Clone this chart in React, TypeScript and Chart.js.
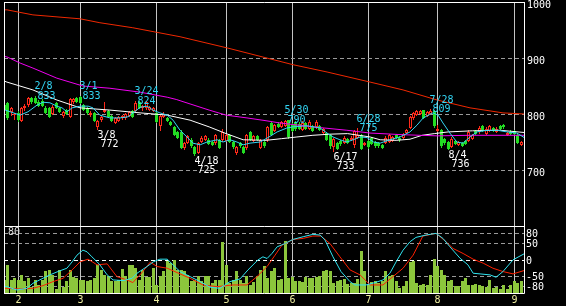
import React, { useEffect, useRef } from "react";
import { Chart, registerables } from "chart.js";

Chart.register(...registerables);

// ---- trading calendar (2022) ----
const tradingDays: [number, number[]][] = [
  [1, [26, 27, 28, 31]],
  [2, [1, 2, 3, 4, 7, 8, 9, 10, 14, 15, 16, 17, 18, 21, 22, 24, 25, 28]],
  [3, [1, 2, 3, 4, 7, 8, 9, 10, 11, 14, 15, 16, 17, 18, 22, 23, 24, 25, 28, 29, 30, 31]],
  [4, [1, 4, 5, 6, 7, 8, 11, 12, 13, 14, 15, 18, 19, 20, 21, 22, 25, 26, 27, 28]],
  [5, [2, 6, 9, 10, 11, 12, 13, 16, 17, 18, 19, 20, 23, 24, 25, 26, 27, 30, 31]],
  [6, [1, 2, 3, 6, 7, 8, 9, 10, 13, 14, 15, 16, 17, 20, 21, 22, 23, 24, 27, 28, 29, 30]],
  [7, [1, 4, 5, 6, 7, 8, 11, 12, 13, 14, 15, 19, 20, 21, 22, 25, 26, 27, 28, 29]],
  [8, [1, 2, 3, 4, 5, 8, 9, 10, 12, 15, 16, 17, 18, 19, 22, 23, 24, 25, 26, 29, 30, 31]],
  [9, [1, 2, 5]],
];
const monthLabels = ["2", "3", "4", "5", "6", "7", "8", "9"];

// ---- daily prices ----
const opens = [816,820,803,799,802,787,810,816,829,829,822,823,811,810,800,820,811,796,807,795,821,828,830,816,811,798,802,776,789,804,806,797,784,788,792,792,796,806,805,821,810,810,808,806,802,778,795,792,786,777,768,768,739,748,754,741,730,750,754,754,750,748,754,753,752,762,750,730,748,741,739,768,752,760,740,750,754,784,770,783,777,779,789,780,785,783,771,784,773,779,776,779,766,766,763,741,748,752,748,756,754,745,758,762,745,752,757,750,748,745,748,750,752,762,758,758,766,775,793,798,800,807,797,800,805,770,771,755,750,741,752,744,748,752,752,755,770,768,778,765,770,775,768,778,780,762,768,770,763,745];
const highs = [819,822,812,801,806,813,817,830,831,833,825,826,814,812,816,822,813,806,809,828,829,831,833,818,813,805,804,790,797,821,808,799,795,796,798,802,806,808,824,823,816,823,814,812,806,800,804,794,788,779,770,771,750,763,757,743,750,760,763,757,752,764,756,773,764,764,752,743,750,743,764,770,762,762,756,752,778,786,782,785,788,790,789,784,787,785,788,786,789,781,789,781,775,768,765,758,750,754,760,758,760,772,775,764,750,753,759,752,750,747,760,764,761,764,760,766,774,796,803,807,807,808,805,809,807,780,773,758,752,759,754,752,750,754,772,764,772,778,780,776,781,777,777,780,783,768,771,772,765,752];
const lows = [805,789,797,790,786,785,806,812,818,818,812,813,800,792,798,809,802,792,798,793,818,820,817,806,799,795,785,772,786,802,793,786,782,786,790,790,794,792,803,809,806,808,805,804,784,770,792,786,778,760,755,737,736,746,740,725,728,748,752,744,742,745,738,750,750,748,738,727,740,728,736,752,750,752,738,740,750,760,768,775,775,776,756,768,770,771,769,771,771,768,774,769,764,752,738,733,735,743,746,746,752,740,755,735,742,738,744,740,740,738,746,748,750,755,750,756,764,773,790,796,798,791,795,798,775,768,740,745,736,739,744,742,741,745,750,753,763,765,768,763,768,768,766,771,774,760,762,762,746,743];
const closes = [807,792,810,800,789,811,815,828,821,820,814,815,802,794,813,811,804,803,800,826,827,822,819,808,801,802,787,788,795,807,795,788,793,794,796,800,803,794,820,811,814,821,812,810,786,797,800,788,780,762,757,740,748,760,742,728,748,758,761,746,745,762,740,768,762,750,741,741,742,730,762,754,760,754,754,742,777,762,780,777,786,788,759,770,773,774,784,773,786,770,786,771,773,754,742,756,737,746,757,749,758,770,762,737,749,741,746,743,742,740,757,762,759,757,753,764,772,794,801,806,805,793,803,806,778,774,742,748,738,756,746,750,743,747,768,762,765,775,770,773,779,770,774,773,776,766,765,764,748,750];
const volumes = [130,280,130,150,130,180,120,150,60,130,80,130,220,230,180,40,230,60,120,230,160,150,130,130,120,130,150,280,230,180,170,120,120,130,240,170,280,280,250,130,230,160,160,250,80,170,220,320,300,330,230,230,220,180,120,130,170,120,170,170,100,130,130,510,280,100,130,220,130,100,170,80,110,170,230,270,150,220,250,130,140,520,150,160,120,120,110,160,150,150,160,170,220,230,220,100,120,130,140,90,100,100,140,420,220,80,110,120,100,120,220,170,180,120,50,70,120,310,320,100,80,90,80,180,340,270,230,180,120,130,70,70,120,150,80,80,90,80,70,60,130,50,60,40,80,40,80,120,100,120];

// ---- moving averages, read as [day index, price] ----
const maLong: [number, number][] = [[0,986],[0.8,986],[8.3,977],[21.9,970],[27.6,963],[37.1,954],[50.7,938],[64.3,918],[83.3,888],[93.1,875],[105.5,857],[115,843],[124.8,825],[134.3,811],[143.8,802],[149.9,800]];
const maMid: [number, number][] = [[0,903],[0.8,902],[4.6,891],[8.3,882],[15.2,864],[22.7,850],[30.5,846],[39.2,839],[47,830],[49.6,826],[53.6,818],[59.1,807],[64,798],[70,793],[75.5,788],[79.5,784],[89,777],[98.8,771],[105.5,766],[115,763],[124.8,761],[134.3,762],[149.9,762]];
const maShort: [number, number][] = [[0,859],[0.8,857],[8.3,843],[15.2,825],[21.9,811],[30.5,807],[39.2,802],[47,798],[53.6,789],[59.1,777],[64,765],[68.9,754],[75.5,753],[80,756],[84.4,759],[89,762],[94,764],[99,765],[105.5,759],[108.4,754],[113,753],[117,755],[120.5,762],[124,765],[128,768],[135,770],[143,771],[149.9,767]];
const ma5: [number, number][] = [[0,806],[0.3,807],[4.6,798],[6.9,804],[9.5,816],[11.2,821],[13.2,820],[15.2,814],[16.7,811],[18.1,804],[19.6,811],[21.9,814],[24.2,814],[25.6,811],[27.6,798],[30.5,793],[33.4,793],[35.7,795],[37.2,802],[39.2,812],[41.2,814],[42.9,807],[44.9,802],[47,798],[48.7,789],[50.7,771],[52.7,759],[54.4,748],[56.5,745],[58.5,750],[61.4,754],[63.1,750],[65.1,754],[67.1,750],[68.9,745],[70.9,748],[73.8,750],[75.8,757],[78.7,768],[81.5,775],[83.3,777],[87.3,779],[91.1,775],[93.1,766],[94.8,759],[96.8,754],[98.8,750],[100.6,754],[102.6,759],[104.6,758],[106.5,750],[108.4,748],[111.2,754],[114.1,759],[117,768],[119,780],[120.8,793],[123.6,802],[125.1,798],[126.5,784],[128.5,766],[130.5,750],[132.3,748],[134.3,759],[136.3,768],[139.2,771],[142.1,771],[145,768],[147.8,766],[149.9,758]];

// ---- oscillator (lower panel) ----
const oscFast: [number, number][] = [[0,-80],[0.8,-81],[3.7,-91],[6.6,-86],[8.3,-71],[11.2,-56],[13.2,-46],[15.5,-36],[18.1,-26],[19.6,-7],[21,13],[22.7,28],[23.9,23],[25.3,8],[26.8,-7],[27.6,-16],[29.7,-46],[31.4,-61],[34.3,-63],[36.9,-56],[38.3,-41],[41.2,-21],[43,-7],[44.9,1],[47,1],[48.7,-16],[50.7,-36],[53.6,-51],[56.5,-66],[59.4,-83],[62.2,-86],[65.1,-66],[68,-58],[70.3,-31],[73.2,-1],[74.6,8],[75.8,3],[77.2,18],[78.7,38],[80.4,45],[83.3,60],[86.2,68],[89,75],[91.1,73],[92.5,58],[94.8,8],[97.1,-36],[99.7,-66],[101.1,-76],[104.3,-76],[106.9,-69],[109.2,-61],[111.2,-41],[113,-7],[115,28],[117,53],[118.7,66],[121.6,73],[124.5,78],[126.5,63],[128.5,38],[131.4,4],[133.7,-16],[135.2,-41],[137.2,-43],[140.1,-46],[141.8,-53],[143.8,-36],[146.7,-1],[149.9,17]];
const oscSlow: [number, number][] = [[0,-86],[0.8,-86],[4.6,-88],[8.3,-86],[11.2,-78],[14.1,-66],[17,-56],[19.6,-31],[21.9,-7],[24.2,1],[26.8,-16],[29.7,-13],[32.5,-51],[35.4,-61],[37.1,-69],[40,-36],[42.1,-8],[44.1,-21],[47,-26],[50.7,-43],[53.6,-56],[57.3,-76],[61.4,-81],[66,-76],[70,-76],[72.9,-51],[75.8,-21],[78.1,13],[80.1,43],[83.3,60],[86.2,63],[89,70],[91.3,70],[93.9,48],[96.8,8],[99.7,-31],[102.6,-46],[105.5,-76],[109.2,-76],[112.1,-51],[115,-26],[117.9,13],[120.7,70],[124.5,78],[127.4,53],[129.4,33],[132.3,18],[135.2,1],[138.1,-11],[140.9,-26],[143.8,-36],[146.7,-43],[149.9,-33]];

// ---- labelled extremes ----
const highLabelDates = ["2/8", "3/1", "3/24", "5/30", "6/28", "7/28"];
const highLabelValues = [833, 833, 824, 790, 775, 809];
const lowLabelDates = ["3/8", "4/18", "6/17", "8/4"];
const lowLabelValues = [772, 725, 733, 736];

// ---- axis tick labels ----
const priceTicks = [1000, 900, 800, 700];
const priceGrid = [900, 800, 700];
const oscTicks = [80, 50, 0, -50, -80];

const dates: string[] = [];
const monthStarts: number[] = [];
tradingDays.forEach(([m, days]) => {
  if (m > 1) monthStarts.push(dates.length);
  days.forEach((d) => dates.push(`${m}/${d}`));
});

const RED = "#ff2a1a";
const GREEN = "#22dd22";
const CYAN = "#33d6f5";
const MAGENTA = "#f000f0";
const MA_RED = "#f02800";
const VOL = "#8cc63c";
const FONT = "10px 'DejaVu Sans Mono', monospace";

const pairs = (a: [number, number][]) => a.map(([x, y]) => ({ x, y }));

export default function App() {
  const ref = useRef<HTMLCanvasElement>(null);

  useEffect(() => {
    document.body.style.margin = "0";
    document.body.style.background = "#000";
    const canvas = ref.current!;
    const idx = dates.map((_, i) => i);
    const up = idx.map((i) => closes[i] >= opens[i]);

    const panelPlugin = {
      id: "panels",
      afterDatasetsUpdate(chart: any) {
        chart.data.datasets.forEach((ds: any, di: number) => {
          if (ds.type !== "bar") return;
          const meta = chart.getDatasetMeta(di);
          meta.data.forEach((el: any) => {
            el.x = Math.floor(el.x) + 0.5;
            const top = Math.round(Math.min(el.y, el.base));
            let bot = Math.round(Math.max(el.y, el.base));
            if (bot - top < 1) bot = top + 1;
            el.y = top;
            el.base = bot;
          });
        });
      },
      beforeDatasetsDraw(chart: any) {
        const { ctx, chartArea: a, scales } = chart;
        const { x, yP, yO } = scales;
        ctx.save();
        ctx.fillStyle = "#000";
        ctx.fillRect(0, 0, chart.width, chart.height);
        ctx.lineWidth = 1;
        // month lines
        ctx.strokeStyle = "#c4c4c4";
        monthStarts.forEach((i) => {
          const px = Math.floor(x.getPixelForValue(i)) + 0.5;
          ctx.beginPath();
          ctx.moveTo(px, a.top);
          ctx.lineTo(px, a.bottom);
          ctx.stroke();
        });
        // dashed horizontals
        ctx.setLineDash([4, 3]);
        const hline = (py: number, color: string) => {
          const yy = Math.round(py) + 0.5;
          ctx.strokeStyle = color;
          ctx.beginPath();
          ctx.moveTo(a.left, yy);
          ctx.lineTo(a.right, yy);
          ctx.stroke();
        };
        priceGrid.forEach((v) => hline(yP.getPixelForValue(v), "#9a9a9a"));
        oscTicks.forEach((v) => hline(yO.getPixelForValue(v), v === 0 ? "#ffffff" : "#9a9a9a"));
        ctx.restore();
      },
      afterDatasetsDraw(chart: any) {
        const { ctx, chartArea: a, scales } = chart;
        const { x, yP, yO } = scales;
        ctx.save();
        ctx.strokeStyle = "#ffffff";
        ctx.lineWidth = 1;
        const divider = Math.round(yP.getPixelForValue(600)) + 0.5;
        ctx.beginPath();
        ctx.moveTo(a.left, a.top + 0.5);
        ctx.lineTo(a.right + 0.5, a.top + 0.5);
        ctx.moveTo(a.left + 0.5, a.top);
        ctx.lineTo(a.left + 0.5, a.bottom + 0.5);
        ctx.moveTo(a.right + 0.5, a.top);
        ctx.lineTo(a.right + 0.5, a.bottom + 0.5);
        ctx.moveTo(a.left, a.bottom + 0.5);
        ctx.lineTo(a.right + 0.5, a.bottom + 0.5);
        ctx.moveTo(a.left, divider);
        ctx.lineTo(a.right + 0.5, divider);
        ctx.stroke();

        ctx.font = FONT;
        ctx.textBaseline = "alphabetic";
        ctx.textAlign = "left";
        // right price labels
        ctx.fillStyle = "#ffffff";
        priceTicks.forEach((v) => {
          ctx.fillText(String(v), a.right + 3, yP.getPixelForValue(v) + 6.2);
        });
        oscTicks.forEach((v) => {
          ctx.fillText(String(v), a.right + 2, yO.getPixelForValue(v) + 4);
        });
        ctx.fillStyle = "#e0e0e0";
        ctx.fillText("80", a.left + 4, yO.getPixelForValue(80) + 2.5);
        // month labels
        ctx.fillStyle = "#eeeea0";
        ctx.textAlign = "center";
        monthStarts.forEach((i, k) => {
          const px = Math.floor(x.getPixelForValue(i)) + 0.5;
          ctx.fillText(monthLabels[k], px, a.bottom + 9.5);
        });
        // extreme annotations
        ctx.textAlign = "left";
        ctx.fillStyle = CYAN;
        highLabelDates.forEach((d, k) => {
          const i = dates.indexOf(d);
          const px = Math.floor(x.getPixelForValue(i)) + 0.5;
          const py = yP.getPixelForValue(highLabelValues[k]);
          ctx.fillText(d, px - 1, py - 6.2);
          ctx.fillText(String(highLabelValues[k]), px + 2, py + 3.2);
        });
        ctx.fillStyle = "#ffffff";
        lowLabelDates.forEach((d, k) => {
          const i = dates.indexOf(d);
          const px = Math.floor(x.getPixelForValue(i)) + 0.5;
          const py = yP.getPixelForValue(lowLabelValues[k]);
          ctx.fillText(d, px, py + 8);
          ctx.fillText(String(lowLabelValues[k]), px + 3, py + 17);
        });
        ctx.restore();
      },
    };

    const line = (data: [number, number][], color: string, axis: string, order: number) => ({
      type: "line" as const,
      data: pairs(data),
      yAxisID: axis,
      borderColor: color,
      borderWidth: 1,
      pointRadius: 0,
      tension: 0,
      fill: false,
      order,
    });

    const chart = new Chart(canvas, {
      type: "bar",
      data: {
        datasets: [
          line(maLong, MA_RED, "yP", 1),
          line(maMid, MAGENTA, "yP", 1),
          line(maShort, "#ffffff", "yP", 1),
          line(ma5, CYAN, "yP", 0),
          line(oscSlow, "#ff2000", "yO", 1),
          line(oscFast, "#30e4f0", "yO", 0),
          {
            type: "bar",
            data: idx.map((i) => ({ x: i, y: [Math.min(opens[i], closes[i]), Math.max(opens[i], closes[i])] })) as any,
            yAxisID: "yP",
            barThickness: 3,
            grouped: false,
            backgroundColor: idx.map((i) => (up[i] ? "#000000" : GREEN)),
            borderColor: idx.map((i) => (up[i] ? RED : GREEN)),
            borderWidth: 1,
            borderSkipped: false,
            inflateAmount: 0,
            order: 5,
          },
          {
            type: "bar",
            data: idx.map((i) => ({ x: i, y: [lows[i], highs[i]] })) as any,
            yAxisID: "yP",
            barThickness: 1,
            grouped: false,
            backgroundColor: idx.map((i) => (up[i] ? RED : GREEN)),
            borderWidth: 0,
            inflateAmount: 0,
            order: 6,
          },
          {
            type: "bar",
            data: idx.map((i) => ({ x: i, y: volumes[i] })) as any,
            yAxisID: "yV",
            barThickness: 3,
            grouped: false,
            backgroundColor: VOL,
            borderWidth: 0,
            inflateAmount: 0,
            order: 7,
          },
        ] as any,
      },
      options: {
        animation: false,
        responsive: false,
        events: [],
        layout: { padding: { left: 4, right: 42, top: 2, bottom: 13 } },
        plugins: { legend: { display: false }, tooltip: { enabled: false } },
        scales: {
          x: { type: "linear", min: -0.04, max: 149.86, offset: false, display: false },
          yP: { type: "linear", position: "right", min: 480.4, max: 1000, display: false },
          yO: { type: "linear", position: "right", min: -100, max: 768.7, display: false },
          yV: { type: "linear", position: "left", min: 0, max: 2910, display: false },
        },
      } as any,
      plugins: [panelPlugin],
    });
    return () => chart.destroy();
  }, []);

  return <canvas ref={ref} width={566} height={306} style={{ display: "block", width: 566, height: 306 }} />;
}
